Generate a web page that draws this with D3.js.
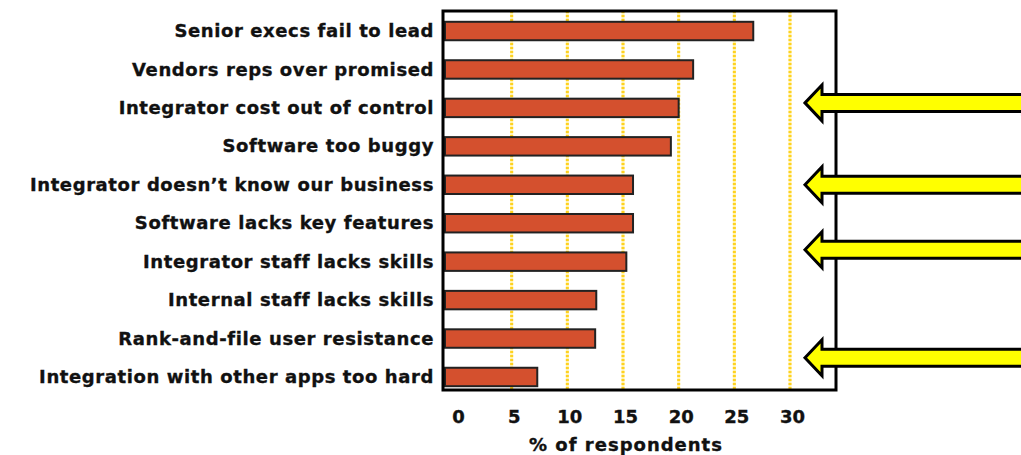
<!DOCTYPE html>
<html>
<head>
<meta charset="utf-8">
<script src="https://cdn.jsdelivr.net/npm/d3@7"></script>
<style>
	body { margin: 0; background: #fff; }
	text { font-family: "DejaVu Sans", sans-serif; font-weight: bold; fill: #111; stroke: #111; stroke-width: 0.35px; }
</style>
</head>
<body>
<div id="chart"></div>
<script>

var categories = [
	"Senior execs fail to lead",
	"Vendors reps over promised",
	"Integrator cost out of control",
	"Software too buggy",
	"Integrator doesn\u2019t know our business",
	"Software lacks key features",
	"Integrator staff lacks skills",
	"Internal staff lacks skills",
	"Rank-and-file user resistance",
	"Integration with other apps too hard"
];
var values = [26.7, 21.3, 20.0, 19.3, 15.9, 15.9, 15.3, 12.6, 12.5, 7.3];
var ticks = [0, 5, 10, 15, 20, 25, 30];
var axisTitle = "% of respondents";

// rows the yellow arrows point at, and shift in rows
var arrowRows = [
	"Integrator cost out of control",
	"Integrator doesn\u2019t know our business",
	"Integrator staff lacks skills",
	"Integration with other apps too hard"
];
var arrowShift = [-0.13, 0, -0.31, -0.5];

var width = 1021, height = 455;
var frame = { left: 443, top: 11, right: 836, bottom: 390 };

var svg = d3.select("#chart")
	.append("svg")
	.attr("width", width)
	.attr("height", height);

var x = d3.scaleLinear()
	.domain([0, 30])
	.range([456, 790]);

var y = d3.scaleBand()
	.domain(categories)
	.range([11.8, 396.2])
	.paddingInner(0.52)
	.paddingOuter(0.26);

// dotted gridlines: pale base with brighter dashes
var grid = svg.append("g");
var gridTicks = ticks.filter(function(t) { return t > 0; });

grid.selectAll("line.base")
	.data(gridTicks)
	.enter()
	.append("line")
	.attr("class", "base")
	.attr("x1", function(d) { return x(d); })
	.attr("x2", function(d) { return x(d); })
	.attr("y1", frame.top)
	.attr("y2", frame.bottom)
	.attr("stroke", "#fff2b0")
	.attr("stroke-width", 3);

grid.selectAll("line.dash")
	.data(gridTicks)
	.enter()
	.append("line")
	.attr("class", "dash")
	.attr("x1", function(d) { return x(d); })
	.attr("x2", function(d) { return x(d); })
	.attr("y1", frame.top)
	.attr("y2", frame.bottom)
	.attr("stroke", "#ffd21f")
	.attr("stroke-width", 3)
	.attr("stroke-dasharray", "2,2");

// bars
svg.append("g")
	.selectAll("rect")
	.data(values)
	.enter()
	.append("rect")
	.attr("x", frame.left + 2)
	.attr("y", function(d, i) { return y(categories[i]); })
	.attr("width", function(d) { return x(d) - frame.left - 2; })
	.attr("height", y.bandwidth())
	.style("fill", "#d4502e")
	.style("stroke", "#222")
	.style("stroke-width", 2);

// frame
svg.append("rect")
	.attr("x", frame.left)
	.attr("y", frame.top)
	.attr("width", frame.right - frame.left)
	.attr("height", frame.bottom - frame.top)
	.attr("fill", "none")
	.attr("stroke", "#000")
	.attr("stroke-width", 3);

// category labels
svg.append("g")
	.selectAll("text")
	.data(categories)
	.enter()
	.append("text")
	.attr("x", frame.left - 9)
	.attr("y", function(d) { return y(d) + y.bandwidth() / 2; })
	.attr("dy", "0.34em")
	.attr("text-anchor", "end")
	.style("font-size", "18px")
	.style("letter-spacing", "0.6px")
	.text(function(d) { return d; });

// x axis tick labels
var axis = d3.axisBottom(x)
	.tickValues(ticks)
	.tickSize(0)
	.tickPadding(0);

var gx = svg.append("g")
	.attr("transform", "translate(2," + (frame.bottom + 20) + ")")
	.call(axis);
gx.select(".domain").remove();
gx.selectAll("text")
	.attr("font-family", null)
	.attr("font-size", null)
	.attr("fill", null)
	.style("font-size", "18px");

svg.append("text")
	.attr("x", (x(0) + x(30)) / 2 + 3)
	.attr("y", 451)
	.attr("text-anchor", "middle")
	.style("font-size", "18px")
	.style("letter-spacing", "1px")
	.text(axisTitle);

// yellow arrows
var step = y.step();
svg.append("g")
	.selectAll("path")
	.data(arrowRows)
	.enter()
	.append("path")
	.attr("d", function(d, i) {
		var cy = y(d) + y.bandwidth() / 2 + arrowShift[i] * step;
		var tip = 805, back = 822;
		return "M" + tip + "," + cy +
			"L" + back + "," + (cy - 18) +
			"L" + back + "," + (cy - 8.5) +
			"L" + (width + 5) + "," + (cy - 8.5) +
			"L" + (width + 5) + "," + (cy + 8.5) +
			"L" + back + "," + (cy + 8.5) +
			"L" + back + "," + (cy + 18) + "Z";
	})
	.attr("fill", "#ffff00")
	.attr("stroke", "#000")
	.attr("stroke-width", 3);

</script>
</body>
</html>
